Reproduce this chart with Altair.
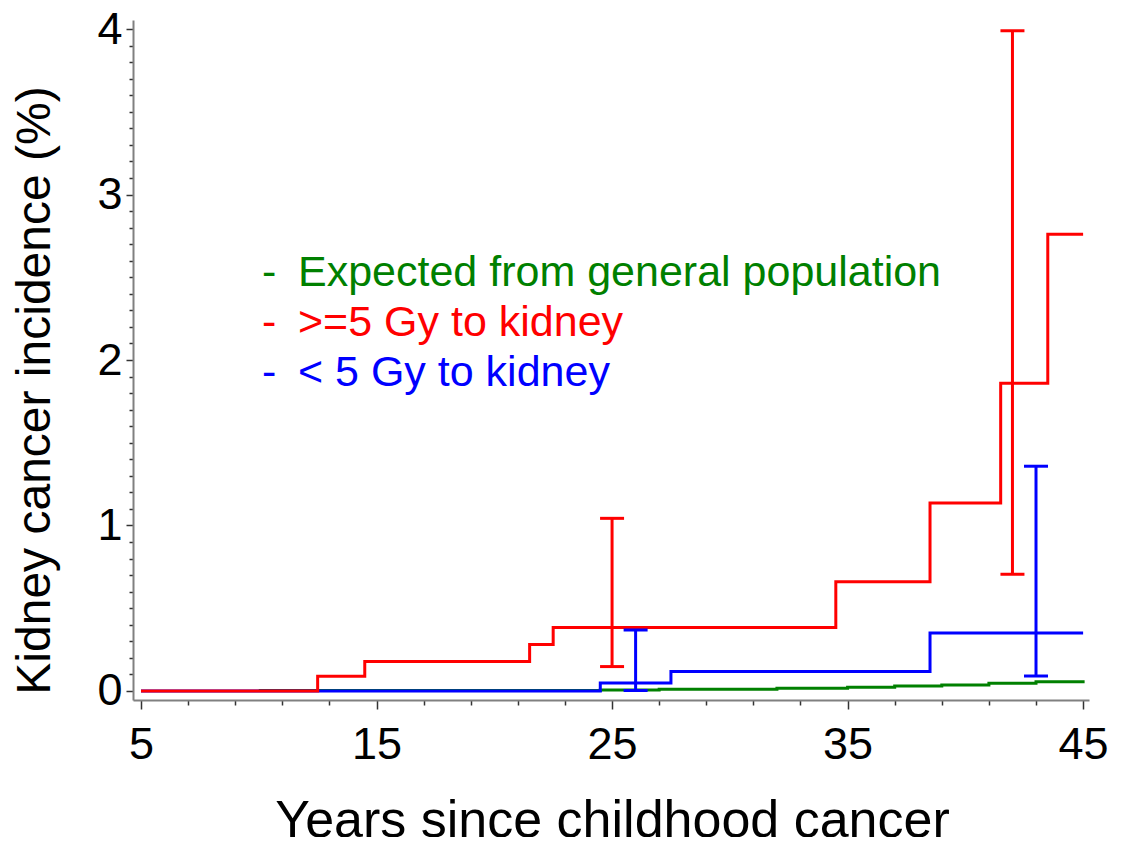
import altair as alt
import pandas as pd

FONT = "Liberation Sans"

# ---- data ----
RED_T = [5, 12.5, 14.5, 21.5, 22.5, 34.5, 38.5, 41.5, 43.5, 45]
RED_Y = [0, 0.088, 0.177, 0.28, 0.383, 0.66, 1.135, 1.86, 2.76, 2.76]
BLUE_T = [5, 24.5, 27.5, 38.5, 45]
BLUE_Y = [0, 0.047, 0.117, 0.35, 0.35]
GREEN_T = [10, 24.5, 27, 32, 35, 37, 39, 41, 43, 45]
GREEN_Y = [0.003, 0.006, 0.01, 0.016, 0.022, 0.03, 0.036, 0.046, 0.056, 0.064]

ERR_SERIES = ["red", "red", "blue", "blue"]
ERR_T = [25, 42, 26, 43]
ERR_LO = [0.147, 0.705, 0.002, 0.09]
ERR_HI = [1.043, 3.99, 0.368, 1.358]

X_TICKS = [5 + 2 * i for i in range(21)]
Y_TICKS = [round(0.1 * i, 1) for i in range(41)]

LEG_LABELS = ["Expected from general population", ">=5 Gy to kidney", "< 5 Gy to kidney"]
LEG_COLORS = ["#008000", "#ff0000", "#0000ff"]
COLORS = {"green": "#008000", "red": "#ff0000", "blue": "#0000ff"}

X_TITLE = "Years since childhood cancer"
Y_TITLE = "Kidney cancer incidence (%)"

xscale = alt.Scale(domain=[4.66, 45.25], nice=False, zero=False)
yscale = alt.Scale(domain=[-0.055, 4.055], nice=False, zero=False)

xaxis = alt.Axis(
    values=X_TICKS,
    labelExpr="(datum.value - 5) % 10 === 0 ? format(datum.value, 'd') : ''",
    tickSize={"condition": {"test": "(datum.value - 5) % 10 === 0", "value": 9}, "value": 5},
    labelFontSize=45, labelFont=FONT, labelColor="black", labelPadding=13,
    labelFlush=False, labelOverlap=False, labelBound=False,
    domainColor="#808080", domainWidth=2, tickColor="#333333", tickWidth=1.5,
    grid=False, title=X_TITLE, titleFont=FONT, titleFontSize=52, titleFontWeight="normal",
    titleColor="black", titleX=479, titleY=136, titleBaseline="alphabetic", titleAlign="center",
)
yaxis = alt.Axis(
    values=Y_TICKS,
    labelExpr="abs(datum.value - round(datum.value)) < 1e-6 ? format(datum.value, 'd') : ''",
    tickSize={"condition": {"test": "abs(datum.value - round(datum.value)) < 1e-6", "value": 7}, "value": 4},
    labelFontSize=45, labelFont=FONT, labelColor="black", labelPadding=4,
    labelFlush=False, labelOverlap=False, labelBound=False,
    domainColor="#808080", domainWidth=2, tickColor="#333333", tickWidth=1.5,
    grid=False, title=Y_TITLE, titleFont=FONT, titleFontSize=48, titleFontWeight="normal",
    titleColor="black", titleX=-98, titleY=370, titleAngle=-90, titleAlign="center",
    titleBaseline="middle",
)


def xenc(field="t"):
    return alt.X(f"{field}:Q", scale=xscale, axis=xaxis)


def yenc(field="y"):
    return alt.Y(f"{field}:Q", scale=yscale, axis=yaxis)


def step_layer(ts, ys, color):
    df = pd.DataFrame({"t": ts, "y": ys})
    return alt.Chart(df).mark_line(
        interpolate="step-after", strokeWidth=3, color=color, clip=False
    ).encode(x=xenc(), y=yenc())


layers = [
    step_layer(GREEN_T, GREEN_Y, COLORS["green"]),
    step_layer(BLUE_T, BLUE_Y, COLORS["blue"]),
    step_layer(RED_T, RED_Y, COLORS["red"]),
]

err = pd.DataFrame({"s": ERR_SERIES, "t": ERR_T, "lo": ERR_LO, "hi": ERR_HI})
for s in ["red", "blue"]:
    d = err[err.s == s]
    layers.append(
        alt.Chart(d).mark_rule(strokeWidth=3, color=COLORS[s]).encode(
            x=xenc(), y=yenc("lo"), y2="hi:Q"
        )
    )
    caps = pd.DataFrame({"t": list(d.t) * 2, "y": list(d.lo) + list(d.hi)})
    layers.append(
        alt.Chart(caps).mark_tick(orient="horizontal", thickness=3, size=24, color=COLORS[s], opacity=1).encode(
            x=xenc(), y=yenc()
        )
    )

# in-plot legend as text
for i, (lab, col) in enumerate(zip(LEG_LABELS, LEG_COLORS)):
    base_y = 266 + 50 * i
    ld = pd.DataFrame({"label": [lab]})
    layers.append(
        alt.Chart(ld).mark_text(
            text="-", font=FONT, fontSize=43, color=col, align="left", baseline="alphabetic"
        ).encode(x=alt.value(129), y=alt.value(base_y))
    )
    layers.append(
        alt.Chart(ld).mark_text(
            font=FONT, fontSize=43, color=col, align="left", baseline="alphabetic"
        ).encode(text="label:N", x=alt.value(165), y=alt.value(base_y))
    )

chart = alt.layer(*layers).properties(
    width=956,
    height=680,
    autosize=alt.AutoSizeParams(type="none"),
    padding={"left": 125, "top": 12, "right": 20, "bottom": 137},
).configure_view(stroke=None)

chart.save("out.html", embed_options={"renderer": "svg", "actions": False})
